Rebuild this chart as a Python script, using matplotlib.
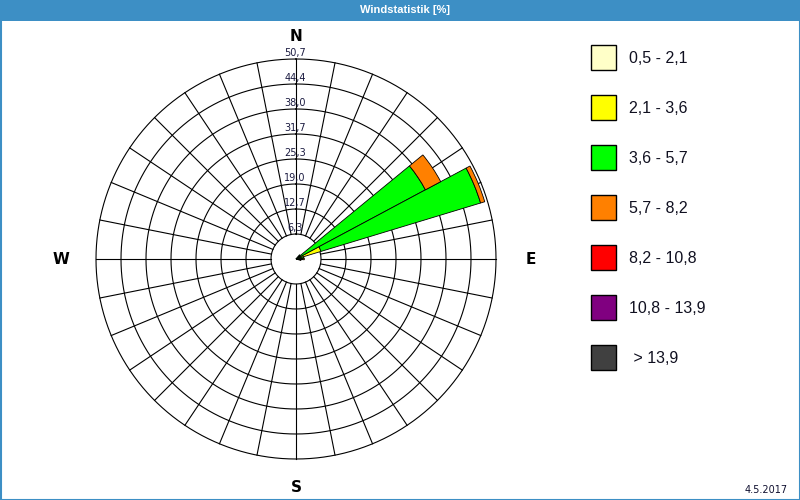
import numpy as np
import matplotlib
matplotlib.use("Agg")
import matplotlib.pyplot as plt
from matplotlib.patches import Rectangle

# wind rose data: percent per direction sector (compass degrees) and speed class
sector_deg = [45.0, 56.25, 67.5, 78.75, 90.0, 101.25]
speed_classes = ["0,5 - 2,1", "2,1 - 3,6", "3,6 - 5,7", "5,7 - 8,2",
                 "8,2 - 10,8", "10,8 - 13,9", " > 13,9"]
class_colors = ["#ffffc8", "#ffff00", "#00ff00", "#ff8000",
                "#ff0000", "#800080", "#404040"]
pct_0_2 = [0.2, 0.3, 1.2, 0.3, 0.0, 0.2]
pct_2_4 = [0.4, 0.8, 5.4, 0.5, 0.0, 0.0]
pct_4_6 = [0.8, 36.1, 42.3, 1.2, 1.5, 0.3]
pct_6_8 = [0.0, 4.4, 1.1, 0.0, 0.6, 0.8]
pct_8_11 = [0, 0, 0, 0, 0, 0]
pct_11_14 = [0, 0, 0, 0, 0, 0]
pct_14 = [0, 0, 0, 0, 0, 0]
series = [pct_0_2, pct_2_4, pct_4_6, pct_6_8, pct_8_11, pct_11_14, pct_14]

r_max = 50.7
ring_labels = ["6,3", "12,7", "19,0", "25,3", "31,7", "38,0", "44,4", "50,7"]
n_sectors = 32

blue = "#3d8fc5"
line_w = 0.8

fig = plt.figure(figsize=(8, 5), dpi=100)
fig.patch.set_facecolor("white")

# overlay in pixel coordinates for the frame, title bar, legend and date
frame = fig.add_axes([0, 0, 1, 1])
frame.set_xlim(0, 800)
frame.set_ylim(500, 0)
frame.axis("off")
frame.add_patch(Rectangle((0, 0), 800, 21, facecolor=blue, edgecolor="none"))
frame.add_patch(Rectangle((0.5, 0.5), 799, 499, facecolor="none",
                          edgecolor=blue, linewidth=1.5))
frame.text(405, 10, "Windstatistik [%]", color="white", fontsize=8,
           fontweight="bold", family="Liberation Sans", ha="center", va="center")
frame.text(788, 490, "4.5.2017", fontsize=7, ha="right", va="center",
           color="#101030")

# legend
for i, (lab, col) in enumerate(zip(speed_classes, class_colors)):
    y0 = 45 + 50 * i
    frame.add_patch(Rectangle((590.5, y0), 25, 25, facecolor=col,
                              edgecolor="black", linewidth=1))
    frame.text(629, y0 + 13.5, lab, fontsize=11.5, family="Liberation Sans",
               ha="left", va="center", color="#101020")

# polar rose
ax = fig.add_axes([96 / 800, 41 / 500, 400 / 800, 400 / 500], projection="polar")
ax.set_theta_zero_location("N")
ax.set_theta_direction(-1)
ax.set_ylim(0, r_max)
ax.grid(False)
ax.set_xticks([])
ax.set_yticks([])
ax.spines["polar"].set_visible(False)
ax.patch.set_facecolor("white")

ring_r = [r_max * (k + 1) / len(ring_labels) for k in range(len(ring_labels))]
theta_full = np.linspace(0, 2 * np.pi, 721)
for r in ring_r:
    ax.plot(theta_full, np.full_like(theta_full, r), color="black",
            linewidth=line_w, clip_on=False, zorder=1)
for k in range(n_sectors):
    t = np.deg2rad(k * 360 / n_sectors)
    ax.plot([t, t], [ring_r[0], r_max], color="black", linewidth=line_w,
            clip_on=False, zorder=1)

theta = np.deg2rad(sector_deg)
width = 2 * np.pi / n_sectors
bottom = np.zeros(len(sector_deg))
for vals, col in zip(series, class_colors):
    vals = np.asarray(vals, dtype=float)
    mask = vals > 0
    if mask.any():
        ax.bar(theta[mask], vals[mask], width=width, bottom=bottom[mask],
               color=col, edgecolor="black", linewidth=0.6, zorder=3)
    bottom += vals

for r, lab in zip(ring_r, ring_labels):
    ax.annotate(lab, xy=(0, r), xytext=(-1, 6), textcoords="offset pixels",
                ha="center", va="center", fontsize=7, color="#1a1a40",
                zorder=4, annotation_clip=False)

for ang, r, lab in [(0, 56.5, "N"), (90, 59.6, "E"), (180, 58.0, "S"), (270, 59.6, "W")]:
    ax.text(np.deg2rad(ang), r, lab, fontsize=11, fontweight="bold",
            ha="center", va="center", clip_on=False)

fig.savefig("out.png", dpi=100)
